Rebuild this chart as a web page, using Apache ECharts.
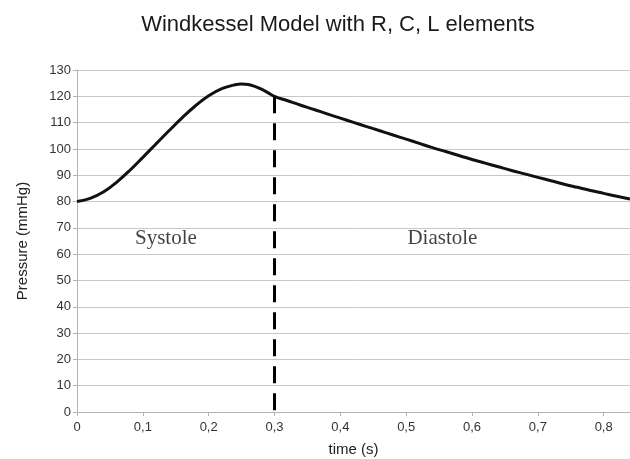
<!DOCTYPE html>
<html>
<head>
<meta charset="utf-8">
<script src="https://cdn.jsdelivr.net/npm/echarts@6/dist/echarts.min.js"></script>
<style>
  html, body { margin: 0; padding: 0; background: #fff; }
  #main { width: 630px; height: 459px; }
</style>
</head>
<body>
<div id="main"></div>
<script>
// time (s) and pressure (mmHg)
var times = [0, 0.02, 0.04, 0.06, 0.08, 0.10, 0.12, 0.14, 0.16, 0.18, 0.20, 0.22, 0.24, 0.25, 0.26, 0.27, 0.28, 0.29, 0.30,
    0.32, 0.34, 0.36, 0.38, 0.40, 0.42, 0.44, 0.46, 0.48, 0.50, 0.52, 0.54, 0.56, 0.58, 0.60,
    0.62, 0.64, 0.66, 0.68, 0.70, 0.72, 0.74, 0.76, 0.78, 0.80, 0.82, 0.84];
var pressure = [80, 81.2, 83.6, 87.3, 91.8, 96.8, 101.9, 107, 111.9, 116.4, 120.2, 122.9, 124.4, 124.7, 124.5, 123.8, 122.7, 121.4, 120,
    118.3, 116.6, 115, 113.3, 111.7, 110.1, 108.5, 106.9, 105.3, 103.7, 102.1, 100.5, 99, 97.5, 96,
    94.6, 93.2, 91.8, 90.5, 89.2, 87.9, 86.6, 85.4, 84.2, 83.1, 82, 81];

var boundaryTime = 0.3;
var boundaryPressure = 120;
var phaseNames = ['Systole', 'Diastole'];
var phaseLabelPos = [[0.135, 65.8], [0.555, 65.8]];

var curve = times.map(function (t, i) { return [t, pressure[i]]; });
var phaseLabels = phaseNames.map(function (n, i) {
    return { value: phaseLabelPos[i], name: n };
});

var myChart = echarts.init(document.getElementById('main'));

var option = {
    animation: false,
    title: {
        text: 'Windkessel Model with R, C, L elements',
        left: 333,
        textAlign: 'center',
        top: 9,
        textStyle: {
            fontFamily: 'Liberation Sans',
            fontSize: 22,
            fontWeight: 'normal',
            color: '#1a1a1a'
        }
    },
    grid: { left: 77, right: 0, top: 70, bottom: 47, outerBoundsMode: 'none', containLabel: false },
    xAxis: {
        type: 'value',
        min: 0,
        max: 0.84,
        interval: 0.1,
        name: 'time (s)',
        nameLocation: 'middle',
        nameGap: 30,
        nameTextStyle: { fontFamily: 'Liberation Sans', fontSize: 15, color: '#222' },
        axisLine: { lineStyle: { color: '#b3b3b3' } },
        axisTick: { show: true, length: 4, lineStyle: { color: '#b3b3b3' } },
        splitLine: { show: false },
        axisLabel: {
            margin: 9,
            fontFamily: 'Liberation Sans',
            fontSize: 13,
            color: '#333',
            showMaxLabel: false,
            formatter: function (v) { return String(Math.round(v * 10) / 10).replace('.', ','); }
        }
    },
    yAxis: {
        type: 'value',
        min: 0,
        max: 130,
        interval: 10,
        name: 'Pressure (mmHg)',
        nameLocation: 'middle',
        nameGap: 47,
        nameTextStyle: { fontFamily: 'Liberation Sans', fontSize: 15, color: '#222' },
        axisLine: { show: true, lineStyle: { color: '#b3b3b3' } },
        axisTick: { show: true, length: 4, lineStyle: { color: '#b3b3b3' } },
        splitLine: { lineStyle: { color: '#c8c8c8' } },
        axisLabel: {
            margin: 6,
            fontFamily: 'Liberation Sans',
            fontSize: 13,
            color: '#333'
        }
    },
    series: [
        {
            type: 'line',
            data: curve,
            smooth: 0.4,
            showSymbol: false,
            lineStyle: { color: '#111', width: 3 },
            markLine: {
                silent: true,
                symbol: ['none', 'none'],
                label: { show: false },
                lineStyle: { color: '#000', width: 3, type: [17, 10] },
                data: [[
                    { coord: [boundaryTime, boundaryPressure] },
                    { coord: [boundaryTime, 0] }
                ]]
            }
        },
        {
            type: 'scatter',
            data: phaseLabels,
            symbolSize: 0,
            silent: true,
            label: {
                show: true,
                position: 'inside',
                formatter: '{b}',
                fontFamily: 'Liberation Serif',
                fontSize: 21,
                color: '#111'
            }
        }
    ]
};

myChart.setOption(option);
</script>
</body>
</html>
